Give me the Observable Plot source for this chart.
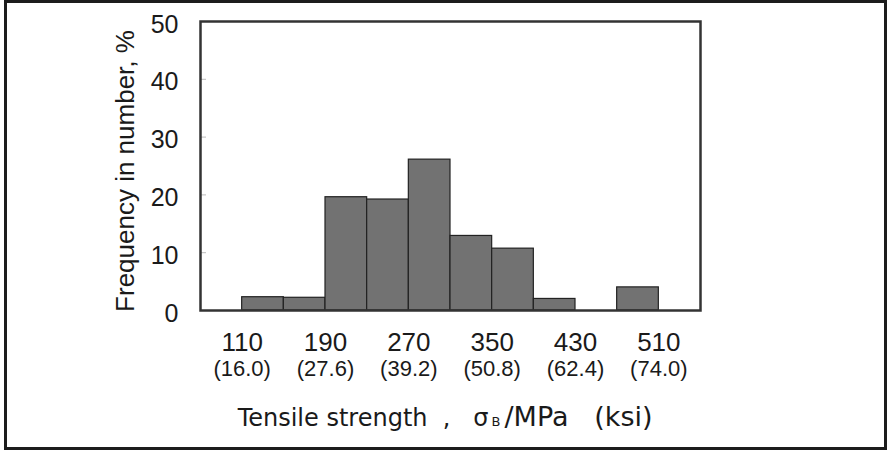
<!DOCTYPE html>
<html><head><meta charset="utf-8">
<script src="https://cdn.jsdelivr.net/npm/d3@7"></script>
<script src="https://cdn.jsdelivr.net/npm/@observablehq/plot@0.6"></script>
<style>
html,body{margin:0;padding:0;background:#fff;}
#wrap{position:relative;width:891px;height:451px;overflow:hidden;}
#border{position:absolute;left:4px;top:0;width:883px;height:450px;box-sizing:border-box;border:3px solid #1c1c1c;pointer-events:none;}
</style></head><body><div id="wrap"><div id="border"></div></div>
<script>
// Bin lower edges (MPa), bin width 40 MPa
const binStart = [70, 110, 150, 190, 230, 270, 310, 350, 390, 430, 470, 510];
const binWidth = 40;
// Frequency in number, %
const freq = [0, 2.3, 2.2, 19.6, 19.2, 26.1, 12.9, 10.7, 2.0, 0, 4.0, 0];
// Tick labels
const mpaTicks = [110, 190, 270, 350, 430, 510];
const ksiLabels = ["(16.0)", "(27.6)", "(39.2)", "(50.8)", "(62.4)", "(74.0)"];
const yTicks = [0, 10, 20, 30, 40, 50];
const yInnerTicks = [10, 20, 30, 40];
const yTitle = "Frequency in number, %";
const xTitleMain = "Tensile strength\u00a0\u00a0,\u00a0\u00a0\u00a0σ";
const xTitleSub = "B";
const xTitleTail = "/MPa\u00a0\u00a0\u00a0(ksi)";

const bins = binStart.map((s, i) => ({x1: s, x2: s + binWidth, freq: freq[i]})).filter(d => d.freq > 0);

const chart = Plot.plot({
  width: 891, height: 451,
  marginLeft: 200, marginRight: 191, marginTop: 21, marginBottom: 141,
  style: {fontFamily: "'Liberation Sans', Arial, sans-serif", color: "#1a1a1a", background: "transparent"},
  x: {domain: [70, 550]},
  y: {domain: [0, 50]},
  marks: [
    Plot.rectY(bins, {x1: "x1", x2: "x2", y: "freq", fill: "#727272", stroke: "#222", strokeWidth: 1.2}),
    Plot.axisY({ticks: yInnerTicks, tickSize: -6, tickFormat: () => "", stroke: "#bbb", label: null}),
    Plot.axisY({ticks: yTicks, tickSize: 0, tickPadding: 22, fontSize: 25, dy: 3, label: null}),
    Plot.axisX({ticks: mpaTicks, tickSize: 0, tickPadding: 22, fontSize: 26, label: null}),
    Plot.axisX({ticks: mpaTicks, tickSize: 0, tickPadding: 50, fontSize: 22,
      tickFormat: d => ksiLabels[mpaTicks.indexOf(d)], label: null}),
    Plot.frame({stroke: "#333", strokeWidth: 2.5}),
    Plot.text([yTitle], {text: d => d, frameAnchor: "left", textAnchor: "middle", rotate: -90, dx: -75, dy: 5, fontSize: 26}),
    Plot.text([xTitleMain], {text: d => d, frameAnchor: "bottom-left", dx: 288, dy: 115, textAnchor: "end",
      lineAnchor: "bottom", fontSize: 24, fontFamily: "DejaVu Sans"}),
    Plot.text([xTitleSub], {text: d => d, frameAnchor: "bottom-left", dx: 291, dy: 115, textAnchor: "start",
      lineAnchor: "bottom", fontSize: 13, fontFamily: "DejaVu Sans"}),
    Plot.text([xTitleTail], {text: d => d, frameAnchor: "bottom-left", dx: 304, dy: 115, textAnchor: "start",
      lineAnchor: "bottom", fontSize: 27, fontFamily: "DejaVu Sans"})
  ]
});
document.getElementById("wrap").prepend(chart);
</script></body></html>
